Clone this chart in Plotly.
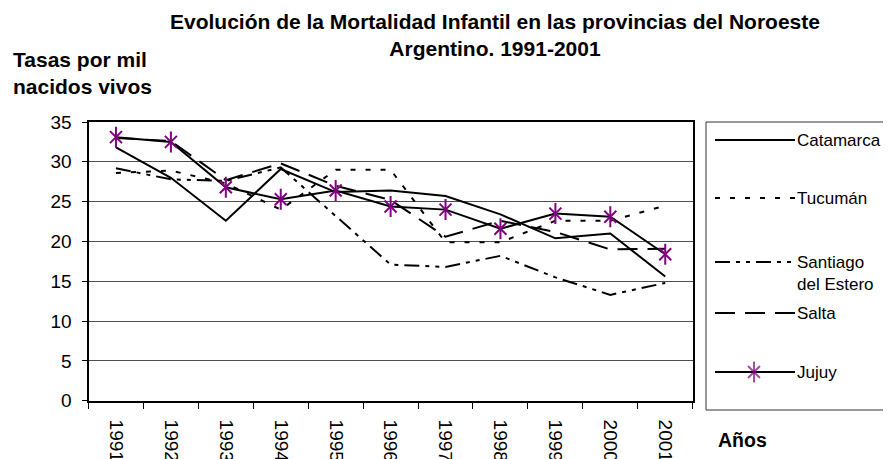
import plotly.graph_objects as go

# Infant mortality rates (per 1000 live births), NOA provinces
years = ["1991", "1992", "1993", "1994", "1995", "1996",
         "1997", "1998", "1999", "2000", "2001"]
catamarca = [31.8, 28.0, 22.6, 29.1, 26.2, 26.4, 25.7, 23.4, 20.4, 21.0, 15.6]
tucuman = [28.6, 28.9, 27.3, 24.0, 29.0, 29.0, 19.9, 19.9, 22.6, 22.6, 24.5]
santiago = [29.2, 27.8, 27.6, 29.3, 23.2, 17.1, 16.8, 18.2, 15.5, 13.3, 14.8]
salta = [33.0, 32.6, 27.7, 29.8, 27.0, 25.2, 20.6, 22.6, 21.2, 19.0, 19.1]
jujuy = [33.1, 32.5, 26.8, 25.3, 26.4, 24.4, 24.0, 21.6, 23.5, 23.1, 18.4]

names = ["Catamarca", "Tucumán", "Santiago<br>del Estero", "Salta", "Jujuy"]
dashes = ["solid", "5px,10px", "15px,6px,4px,6px,4px,6px", "20px,10px", "solid"]

FONT = "Liberation Sans, Arial, sans-serif"
PURPLE = "#800080"

# the page body adds an 8px margin, so the figure is sized to the visible
# part of the window and every pixel position is shifted by that margin
OFF = 8
W, H = 891 - OFF, 459 - OFF


def px(v):
    return v - OFF


# plot area in window pixels
PX0, PX1, PY0, PY1 = px(88.5), px(692.7), px(122), px(400.8)

fig = go.Figure()

for name, vals, dash in zip(names[:4], [catamarca, tucuman, santiago, salta], dashes[:4]):
    fig.add_trace(go.Scatter(
        x=years, y=vals, name=name, mode="lines",
        line=dict(color="black", width=2, dash=dash),
    ))

# Jujuy: line + excel-like star (x plus vertical bar)
fig.add_trace(go.Scatter(
    x=years, y=jujuy, name="Jujuy", mode="lines+markers",
    line=dict(color="black", width=2),
    marker=dict(symbol="x-thin-open", size=12, color=PURPLE,
                line=dict(color=PURPLE, width=2)),
))
fig.add_trace(go.Scatter(
    x=years, y=jujuy, mode="markers", showlegend=False,
    marker=dict(symbol="line-ns-open", size=15, color=PURPLE,
                line=dict(color=PURPLE, width=2)),
))

# hand-made legend drawn on a pixel-space overlay (x2/y2)
LEG_Y = [140, 198, 262, 313, 372]
for name, dash, ly in zip(names, dashes, LEG_Y):
    fig.add_trace(go.Scatter(
        x=[px(715), px(795)], y=[px(ly), px(ly)], xaxis="x2", yaxis="y2",
        mode="lines", showlegend=False,
        line=dict(color="black", width=2, dash=dash),
    ))
    fig.add_annotation(
        text=name, xref="x2", yref="y2", x=px(795), y=px(ly - 11.5),
        xanchor="left", yanchor="top", align="left", showarrow=False,
        font=dict(family=FONT, size=17, color="black"),
    )
fig.add_trace(go.Scatter(
    x=[px(754), px(754)], y=[px(372), px(372)], xaxis="x2", yaxis="y2",
    mode="markers", showlegend=False,
    marker=dict(symbol=["x-thin-open", "line-ns-open"], size=[12, 15],
                color=PURPLE, line=dict(color=PURPLE, width=2)),
))
fig.add_shape(type="rect", xref="x2", yref="y2",
              x0=px(706), x1=px(905), y0=px(122), y1=px(410),
              line=dict(color="#333333", width=1))

fig.update_layout(
    width=W, height=H,
    margin=dict(l=0, r=0, t=0, b=0, autoexpand=False),
    paper_bgcolor="white", plot_bgcolor="rgba(0,0,0,0)",
    font=dict(family=FONT, color="black"),
    showlegend=False,
    xaxis=dict(
        type="category", range=[-0.5, len(years) - 0.5],
        tickangle=90, tickson="boundaries",
        ticks="outside", ticklen=6, tickcolor="black", tickwidth=1,
        showgrid=False, showline=True, linecolor="black", linewidth=2,
        mirror=True, ticklabelstandoff=13,
        tickfont=dict(family=FONT, size=19, color="black"),
        domain=[PX0 / W, PX1 / W], anchor="y",
    ),
    yaxis=dict(
        range=[0, 35], dtick=5, ticks="outside", ticklen=5,
        tickcolor="black", showgrid=True, gridcolor="#4d4d4d", gridwidth=1,
        showline=True, linecolor="black", linewidth=2, mirror=True,
        zeroline=False, ticklabelstandoff=6,
        tickfont=dict(family=FONT, size=19, color="black"),
        domain=[(H - PY1) / H, (H - PY0) / H], anchor="x",
    ),
    xaxis2=dict(domain=[0, 1], range=[0, W], anchor="y2", visible=False,
                fixedrange=True),
    yaxis2=dict(domain=[0, 1], range=[H, 0], anchor="x2", visible=False,
                fixedrange=True),
)

fig.add_annotation(
    text="<b>Evolución de la Mortalidad Infantil en las provincias del Noroeste<br>Argentino. 1991-2001</b>",
    xref="x2", yref="y2", x=px(494.5), y=px(34.5), xanchor="center", yanchor="middle",
    showarrow=False, font=dict(family=FONT, size=21, color="black"),
)
fig.add_annotation(
    text="<b>Tasas por mil<br>nacidos vivos</b>", xref="x2", yref="y2",
    x=px(11), y=px(72.5), xanchor="left", yanchor="middle", align="left",
    showarrow=False, font=dict(family=FONT, size=21, color="black"),
)
fig.add_annotation(
    text="<b>Años</b>", xref="x2", yref="y2", x=px(716), y=px(440),
    xanchor="left", yanchor="middle", showarrow=False,
    font=dict(family=FONT, size=19.5, color="black"),
)

fig.write_html("out.html")
